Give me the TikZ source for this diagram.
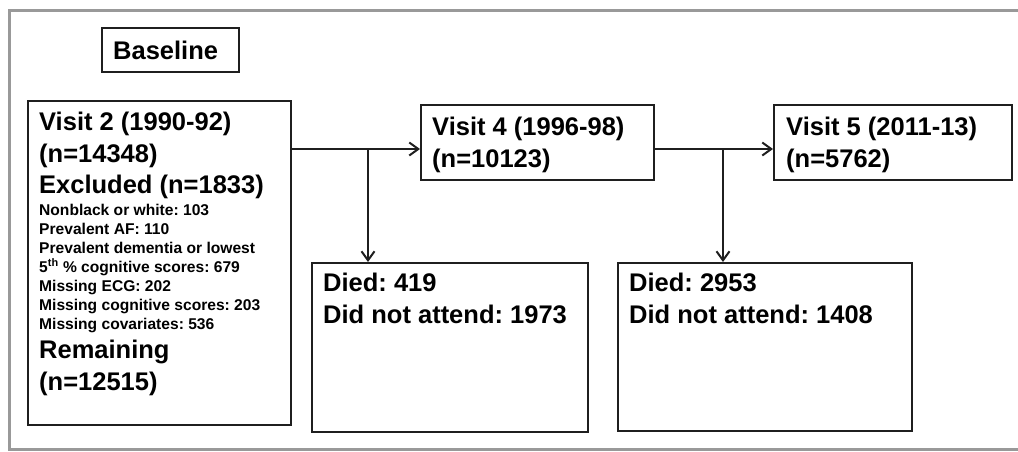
\documentclass[tikz,border=0pt]{standalone}
\usepackage{fontspec}
\setmainfont{Liberation Sans}
\usetikzlibrary{arrows.meta}
\frenchspacing

\begin{document}
\begin{tikzpicture}[x=1pt,y=-1pt,
    box/.style={draw=black!88,line width=2.2pt,anchor=north west,inner sep=0pt},
    big/.style={anchor=base west,inner sep=0pt,align=left,font=\fontsize{25.5}{31.5}\selectfont\bfseries},
    small/.style={anchor=base west,inner sep=0pt,align=left,font=\fontsize{15.6}{19}\selectfont\bfseries},
    arr/.style={draw=black!88,line width=2pt,-{Straight Barb[length=9pt,width=13pt]}}]
  \useasboundingbox (0,0) rectangle (1018,451);
  \draw[black!40,line width=3pt] (1018,10) -- (9,10) -- (9,449) -- (1018,449);
  % boxes
  \node[box,minimum width=137pt,minimum height=44pt] (base) at (101,27) {};
  \node[box,minimum width=263pt,minimum height=324pt] (v2) at (27,100) {};
  \node[box,minimum width=233pt,minimum height=75pt] (v4) at (420,104) {};
  \node[box,minimum width=238pt,minimum height=75pt] (v5) at (773,104) {};
  \node[box,minimum width=276pt,minimum height=169pt] (d1) at (311,262) {};
  \node[box,minimum width=294pt,minimum height=168pt] (d2) at (617,262) {};
  % texts (base = last line)
  \node[big] (basetxt) at (113,59) {Baseline};
  \node[big] (v2head) at (39,162) {Visit 2 (1990-92)\\(n=14348)};
  \node[big] (v2excl) at (39,193) {Excluded (n=1833)};
  \node[small] (v2list) at (39,329) {Nonblack or white: 103\\Prevalent AF: 110\\Prevalent dementia or lowest\\5\textsuperscript{th} \% cognitive scores: 679\\Missing ECG: 202\\Missing cognitive scores: 203\\Missing covariates: 536};
  \node[big] (v2rest) at (39,390) {Remaining\\(n=12515)};
  \node[big] (v4txt) at (432,167) {Visit 4 (1996-98)\\(n=10123)};
  \node[big] (v5txt) at (786,167) {Visit 5 (2011-13)\\(n=5762)};
  \node[big] (d1txt) at (323,323) {Died: 419\\Did not attend: 1973};
  \node[big] (d2txt) at (629,323) {Died: 2953\\Did not attend: 1408};
  % connectors
  \coordinate (j1) at (368,149);
  \coordinate (j2) at (723,149);
  \draw[arr] (v2.east |- j1) -- (j1 -| v4.west);
  \draw[arr] (j1) -- (j1 |- d1.north);
  \draw[arr] (v4.east |- j2) -- (j2 -| v5.west);
  \draw[arr] (j2) -- (j2 |- d2.north);
\end{tikzpicture}
\end{document}
